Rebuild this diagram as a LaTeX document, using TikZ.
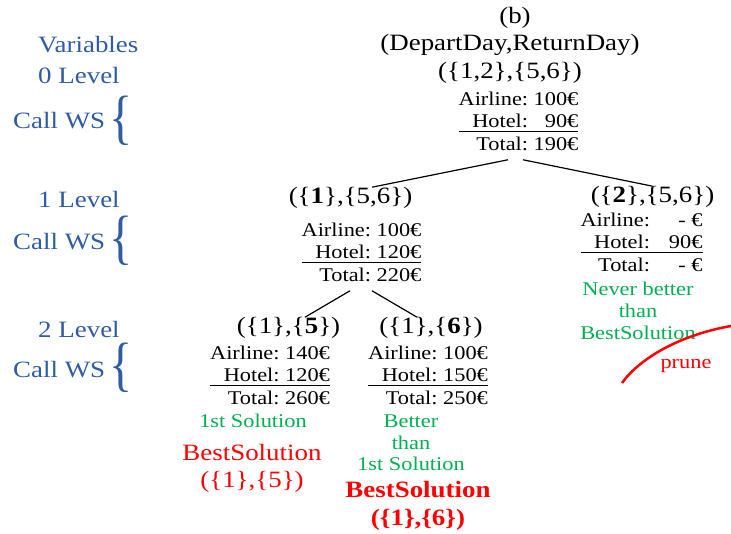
\documentclass[tikz,border=0pt]{standalone}
\usepackage{fontspec}
\setmainfont{Liberation Serif}[FakeStretch=1.15]
\usepackage{tikz}
\usepackage{graphicx}
\definecolor{lvlblue}{RGB}{46,92,166}
\definecolor{okgreen}{RGB}{0,176,80}
\definecolor{bestred}{RGB}{255,0,0}
\newcommand{\bigtxt}{\fontsize{23.5}{27.5}\selectfont}
\newcommand{\smalltxt}{\fontsize{19.5}{21.8}\selectfont}
\newcommand{\costs}[4][\ ]{\begin{tabular}{@{}r@{#1}r@{}}Airline:&#2\\Hotel:&#3\\\noalign{\vskip -3bp}\hline\noalign{\vskip 3bp}Total:&#4\end{tabular}}
\setlength{\arrayrulewidth}{1pt}

\begin{document}
\begin{tikzpicture}[x=1bp,y=-1bp,
  every node/.style={inner sep=0pt},
  var/.style={font=\bigtxt,text=lvlblue,anchor=west},
  brc/.style={font=\fontsize{60}{60}\selectfont,text=lvlblue},
  head/.style={font=\bigtxt},
  cost/.style={font=\smalltxt},
  note/.style={font=\smalltxt,text=okgreen,align=center},
  best/.style={font=\bigtxt,text=bestred,align=center}]
\useasboundingbox (0,0) rectangle (731,534);

\node[var] (v0) at (38,45) {Variables};
\node[var] (l0) at (38,75) {0 Level};
\node[var] (w0) at (13,121) {Call WS};
\node[brc] (b0) at (121,121) {\scalebox{0.7}[1]{\{}};
\node[var] (l1) at (38,199) {1 Level};
\node[var] (w1) at (13,242) {Call WS};
\node[brc] (b1) at (121,241) {\scalebox{0.7}[1]{\{}};
\node[var] (l2) at (38,329) {2 Level};
\node[var] (w2) at (13,370) {Call WS};
\node[brc] (b2) at (121,368) {\scalebox{0.7}[1]{\{}};

\node[head] (t0) at (515,18) {(b)};
\node[head] (t1) at (510,45) {(DepartDay,ReturnDay)};
\node[head] (n0) at (510,73) {(\{1,2\},\{5,6\})};
\node[cost] (c0) at (518.5,123.5) {\costs{100€}{90€}{190€}};

\node[head] (n1) at (350.5,198) {(\{\textbf{1}\},\{5,6\})};
\node[cost] (c1) at (361.5,254.5) {\costs{100€}{120€}{220€}};
\node[head] (n2) at (652.5,197) {(\{\textbf{2}\},\{5,6\})};
\node[cost] (c2) at (641.5,244.5) {\costs[\hspace{19bp}]{- €}{90€}{- €}};
\node[note] (g2) at (638,311) {Never better\\than\\BestSolution};

\node[head] (n3) at (288.5,328) {(\{1\},\{\textbf{5}\})};
\node[cost] (c3) at (270,377.5) {\costs{140€}{120€}{260€}};
\node[head] (n4) at (431,328) {(\{1\},\{\textbf{6}\})};
\node[cost] (c4) at (428,377.5) {\costs{100€}{150€}{250€}};
\node[note] (g3) at (253,421) {1st Solution};
\node[note] (g4) at (411,443) {Better\\than\\1st Solution};
\node[best] (r3) at (252,468.5) {BestSolution\\(\{1\},\{5\})};
\node[best,font=\bigtxt\bfseries] (r4) at (418,506) {BestSolution\\(\{1\},\{6\})};

\node[cost,text=bestred] (p2) at (686,366) {prune};
\draw[bestred,line width=2.5bp] (622,383) .. controls (640,358) and (680,335) .. (731,326);

\foreach \from/\fs/\to/\ts in {c0/-10.5/n1/21.5,c0/4.5/n2/0,c1/-11.5/n3/16.5,c1/10.5/n4/-14}
  \draw[line width=1.2bp] ([xshift=\fs bp,yshift=-3bp]\from.south) -- ([xshift=\ts bp]\to.north);

\end{tikzpicture}
\end{document}
